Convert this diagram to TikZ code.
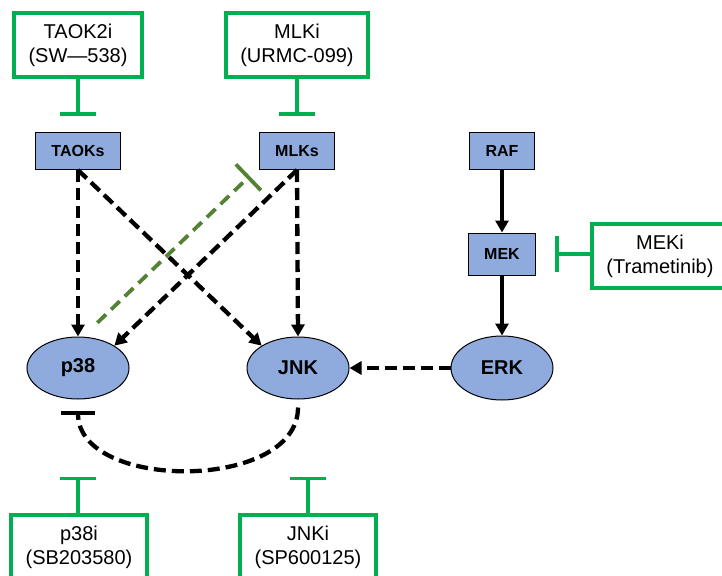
\documentclass[tikz,border=0pt]{standalone}
\usepackage{fontspec}
\setmainfont{Liberation Sans}
\usetikzlibrary{arrows.meta, positioning, shapes.geometric}
\definecolor{boxblue}{HTML}{8FAADC}
\definecolor{drugg}{HTML}{00B050}
\definecolor{oliveg}{HTML}{548235}
\tikzset{
    kinase/.style = {
        draw, rectangle, fill=boxblue, minimum height=37pt, inner xsep=16pt, line width=1pt,
        font=\fontsize{16}{19}\selectfont\bfseries
    },
    mapk/.style = {
        draw, ellipse, fill=boxblue, minimum width=102pt, minimum height=62pt, line width=1pt,
        font=\fontsize{20}{24}\selectfont\bfseries
    },
    drug/.style = {
        draw=drugg, rectangle, line width=3.5pt, minimum height=64pt, inner xsep=14.5pt, align=center,
        font=\fontsize{20}{24}\selectfont
    },
    inhib/.style = {draw=drugg, line width=3.5pt, -{Bar[width=36pt]}},
    brokenline/.style = {dash pattern=on 12pt off 6pt},
}

\begin{document}
\begin{tikzpicture}[x=1pt, y=-1pt]
        \useasboundingbox (0,0) rectangle (722,575);
        \clip (0,0) rectangle (722,575);

        % Place the kinases
        \node[kinase] (TAOKs) at (78,151) {TAOKs};
        \node[kinase] (MLKs) at (297,151) {MLKs};
        \node[kinase] (RAF) at (502,151) {RAF};
        \node[kinase, minimum height=42pt] (MEK) at (502,254) {MEK};
        \node[mapk] (p38) at (78,368) {p38};
        \node[mapk] (JNK) at (298,368) {JNK};
        \node[mapk, minimum height=64pt] (ERK) at (502,368) {ERK};

        % Place the inhibitors
        \node[drug] (TAOK2i) at (78,45) {TAOK2i\\(SW—538)};
        \node[drug] (MLKi) at (297,45) {MLKi\\(URMC-099)};
        \node[drug] (MEKi) at (660,256) {MEKi\\(Trametinib)};
        \node[drug] (p38i) at (79,547) {p38i\\(SB203580)};
        \node[drug] (JNKi) at (308,547) {JNKi\\(SP600125)};

        % Draw connections
        \begin{scope}[line width=4.3pt, >={Triangle[width=13pt,length=12pt]}]
            \draw[->, brokenline] (TAOKs.south) -- (p38.north);
            \draw[->, brokenline] (TAOKs.south) -- (JNK.north west);
            \draw[->, brokenline] (MLKs.south) -- (JNK.north);
            \draw[->, brokenline] (MLKs.south) -- (p38.north east);
            \draw[->, brokenline] (ERK.west) -- (JNK.east);
            \draw[->] (RAF.south) -- (MEK.north);
            \draw[->] (MEK.south) -- (ERK.north);
            \draw[brokenline, -{Bar[width=34pt]}, shorten <=8pt, shorten >=11pt]
                (JNK.south) .. controls +(0,92) and +(0,92) .. (p38.south);
            \draw[oliveg, line width=3.8pt, dash pattern=on 12pt off 7pt, -{Bar[width=36pt]}]
                ([shift={(-17,-23)}]p38.north east) -- ([shift={(-9,6)}]MLKs.south west);
        \end{scope}

        % Drugs
        \draw[inhib, shorten >=16pt] (TAOK2i.south) -- (TAOKs.north);
        \draw[inhib, shorten >=16pt] (MLKi.south) -- (MLKs.north);
        \draw[inhib, shorten >=19pt] (MEKi.west) -- (MEK.east -| MEKi.west) -- (MEK.east);
        \draw[inhib, shorten >=77pt] (p38i.north -| p38.south) -- (p38.south);
        \draw[inhib, shorten >=77pt] (JNKi.north) -- (JNKi.north |- JNK.south);
    \end{tikzpicture}
\end{document}
